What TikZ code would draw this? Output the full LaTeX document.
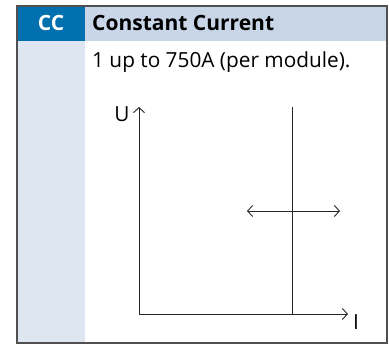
\documentclass[tikz,border=0pt]{standalone}
\usepackage{fontspec}
\setmainfont{Open Sans}
\usetikzlibrary{arrows.meta}
\definecolor{ccblue}{HTML}{0070AE}
\definecolor{headblue}{HTML}{C9D6E8}
\definecolor{sideblue}{HTML}{DEE6F1}
\definecolor{frame}{HTML}{505050}
\tikzset{
  axis/.style={line width=0.9pt,black!85},
  txt/.style={font=\fontsize{20.8}{24}\selectfont,inner sep=0pt},
  head/.style={font=\fontsize{21}{24}\bfseries\selectfont,inner sep=0pt},
}

\begin{document}
\begin{tikzpicture}[x=1pt,y=-1pt,>={Straight Barb[length=5pt,width=11pt]}]
  \useasboundingbox (0,0) rectangle (389,345);
  % panel
  \fill[headblue] (17,6) rectangle (387,41);
  \fill[ccblue] (17,6) rectangle (85,41);
  \fill[sideblue] (17,41) rectangle (85,343);
  \draw[frame,line width=1.5pt] (17,6) rectangle (387,343);
  \node[head,text=white] (cc) at (51,23) {CC};
  \node[head,anchor=west] (title) at (92,23) {Constant Current};
  \node[txt,anchor=west] (range) at (92,62.5) {1 up to 750A (per module).};
  % U-I diagram
  \coordinate (O) at (139,314);
  \coordinate (Utop) at (139,107);
  \coordinate (Iend) at (348,314);
  \coordinate (ccbot) at (292,314);
  \coordinate (cctop) at (292,107);
  \coordinate (left) at (247,211);
  \coordinate (right) at (340,211);
  \draw[axis,->] (O) -- (Utop);
  \draw[axis,->] (O) -- (Iend);
  \draw[axis] (ccbot) -- (cctop);
  \draw[axis,<->] (left) -- (right);
  \node[txt] (U) at (122,114) {U};
  \node[txt] (I) at (356,322) {I};
\end{tikzpicture}
\end{document}
